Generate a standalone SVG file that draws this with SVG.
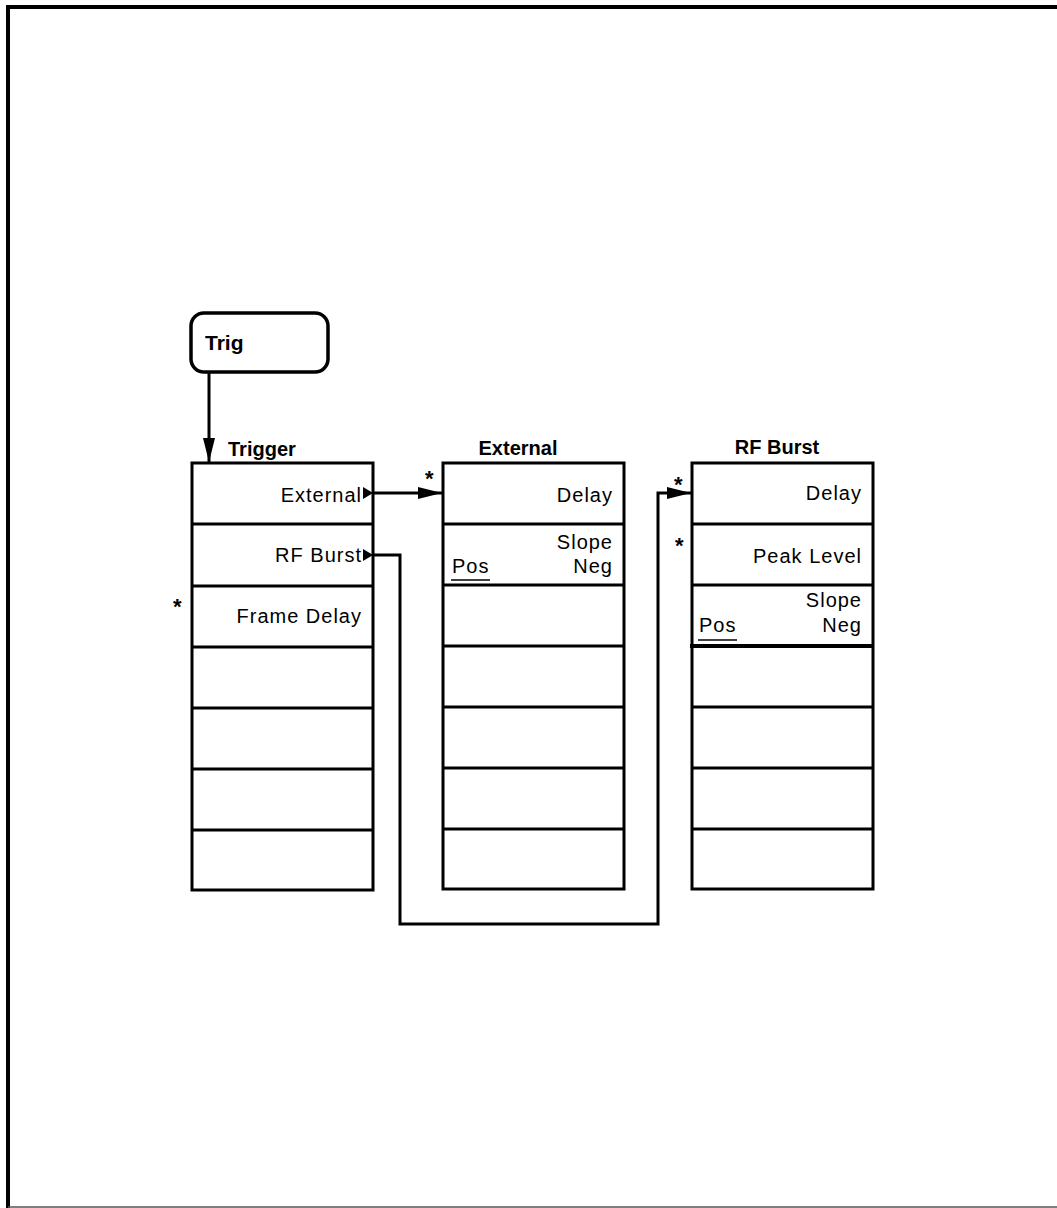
<svg xmlns="http://www.w3.org/2000/svg" width="1057" height="1208" viewBox="0 0 1057 1208">
<style>
.t{font-family:"Liberation Sans",Arial,sans-serif;font-size:20px;fill:#000;letter-spacing:1px}
.b{font-family:"Liberation Sans",Arial,sans-serif;font-size:20px;font-weight:bold;fill:#000}
.s{font-family:"Liberation Sans",Arial,sans-serif;font-size:22px;font-weight:bold;fill:#000}
.r{text-anchor:end}
.m{text-anchor:middle}
.box{fill:#fff;stroke:#000;stroke-width:3}
.sep{stroke:#000;stroke-width:3}
.conn{fill:none;stroke:#000;stroke-width:3}
</style>
<defs>
<marker id="ah" markerWidth="24" markerHeight="12" refX="24" refY="6" orient="auto" markerUnits="userSpaceOnUse">
<path d="M0,0 L24,6 L0,12 Z" fill="#000"/>
</marker>
</defs>
<rect x="0" y="0" width="1057" height="1208" fill="#fff"/>
<path d="M8,1208 L8,7 L1057,7" fill="none" stroke="#000" stroke-width="4"/>
<line x1="8" y1="1207" x2="1057" y2="1207" stroke="#555" stroke-width="1.5"/>

<g id="trig">
<rect x="191" y="313" width="137" height="59" rx="13" ry="13" fill="#fff" stroke="#000" stroke-width="3.5"/>
<text class="b" x="205" y="350" style="font-size:21px">Trig</text>
</g>

<g id="trigger">
<text class="b" x="228" y="456">Trigger</text>
<rect class="box" x="192" y="463" width="181" height="427"/>
<line class="sep" x1="192" y1="524" x2="373" y2="524"/>
<line class="sep" x1="192" y1="586" x2="373" y2="586"/>
<line class="sep" x1="192" y1="647" x2="373" y2="647"/>
<line class="sep" x1="192" y1="708" x2="373" y2="708"/>
<line class="sep" x1="192" y1="769" x2="373" y2="769"/>
<line class="sep" x1="192" y1="830" x2="373" y2="830"/>
<text class="t r" x="362" y="502">External</text>
<path d="M363,487 L373,493 L363,499 Z" fill="#000"/>
<text class="t r" x="362" y="562">RF Burst</text>
<path d="M363,549 L373,555 L363,561 Z" fill="#000"/>
<text class="s" x="173" y="614">*</text>
<text class="t r" x="362" y="623">Frame Delay</text>
</g>

<g id="external">
<text class="b m" x="518" y="455">External</text>
<rect class="box" x="443" y="463" width="181" height="426"/>
<line class="sep" x1="443" y1="524" x2="624" y2="524"/>
<line class="sep" x1="443" y1="585" x2="624" y2="585"/>
<line class="sep" x1="443" y1="646" x2="624" y2="646"/>
<line class="sep" x1="443" y1="707" x2="624" y2="707"/>
<line class="sep" x1="443" y1="768" x2="624" y2="768"/>
<line class="sep" x1="443" y1="829" x2="624" y2="829"/>
<text class="s" x="425" y="486">*</text>
<text class="t r" x="613" y="502">Delay</text>
<text class="t r" x="613" y="549">Slope</text>
<text class="t" x="452" y="573">Pos</text>
<line x1="451" y1="580" x2="490" y2="580" stroke="#000" stroke-width="1.5"/>
<text class="t r" x="613" y="573">Neg</text>
</g>

<g id="rfburst">
<text class="b m" x="777" y="454">RF Burst</text>
<rect class="box" x="692" y="463" width="181" height="426"/>
<line class="sep" x1="692" y1="524" x2="873" y2="524"/>
<line class="sep" x1="692" y1="585" x2="873" y2="585"/>
<line x1="690" y1="646" x2="873" y2="646" stroke="#000" stroke-width="4"/>
<line class="sep" x1="692" y1="707" x2="873" y2="707"/>
<line class="sep" x1="692" y1="768" x2="873" y2="768"/>
<line class="sep" x1="692" y1="829" x2="873" y2="829"/>
<text class="s" x="674" y="492">*</text>
<text class="t r" x="862" y="500">Delay</text>
<text class="s" x="675" y="553">*</text>
<text class="t r" x="862" y="563">Peak Level</text>
<text class="t r" x="862" y="607">Slope</text>
<text class="t" x="699" y="632">Pos</text>
<line x1="698" y1="640" x2="737" y2="640" stroke="#000" stroke-width="1.5"/>
<text class="t r" x="862" y="632">Neg</text>
</g>

<g id="connectors">
<line class="conn" x1="209" y1="372" x2="209" y2="462" marker-end="url(#ah)"/>
<line class="conn" x1="373" y1="493" x2="442" y2="493" marker-end="url(#ah)"/>
<path class="conn" d="M373,555 L400,555 L400,924 L658,924 L658,493 L691,493" marker-end="url(#ah)"/>
</g>
</svg>
